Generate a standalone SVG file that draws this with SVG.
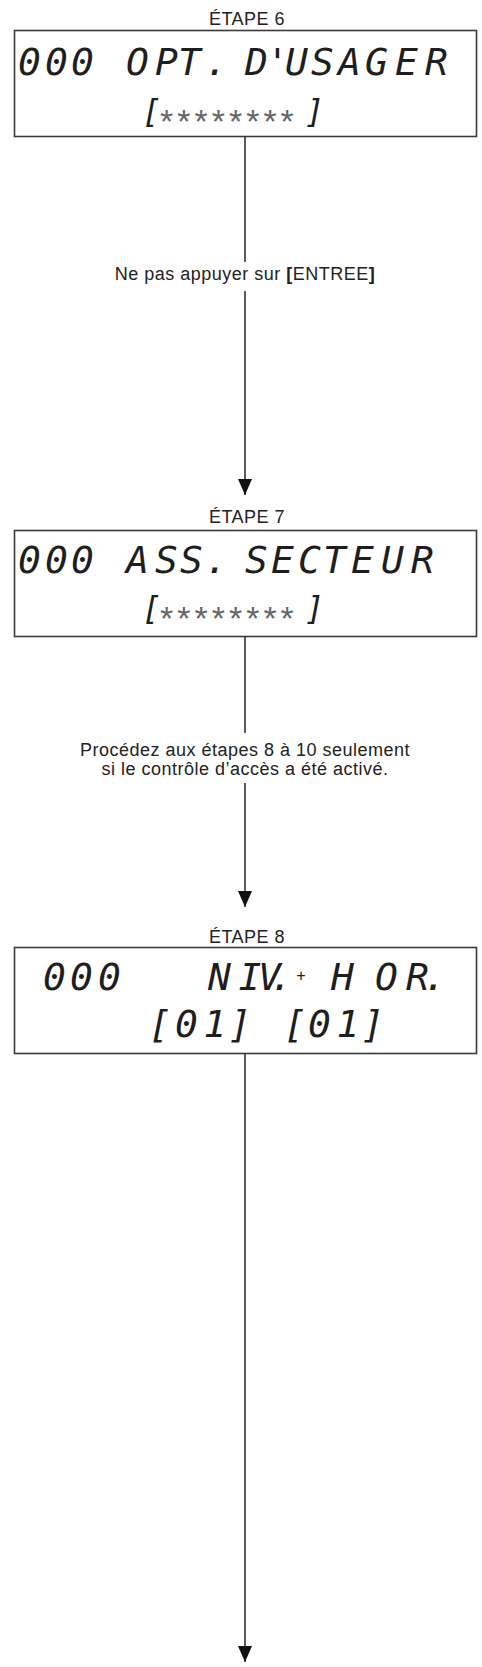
<svg xmlns="http://www.w3.org/2000/svg" width="482" height="1667" viewBox="0 0 482 1667">
<style>
.box{fill:#fff;stroke:#3a3a3a;stroke-width:1.6}
.lcd{font-family:"DejaVu Sans Mono","Liberation Mono",monospace;font-style:oblique;font-size:38px;fill:#1e1e1e}
.br{font-family:"DejaVu Sans Mono","Liberation Mono",monospace;font-style:oblique;font-size:32px;fill:#1e1e1e}
.ast{font-family:"Liberation Sans",Arial,sans-serif;font-size:34px;fill:#666;letter-spacing:4px}
.lbl{font-family:"Liberation Sans",Arial,sans-serif;font-size:18px;fill:#222;letter-spacing:0.5px;text-anchor:middle}
.conn{stroke:#333;stroke-width:1.6;fill:none}
</style>
<defs>
<marker id="arr" markerUnits="userSpaceOnUse" markerWidth="16" markerHeight="14" refX="16" refY="7" orient="auto">
<path d="M0,0 L16,7 L0,14 z" fill="#111"/>
</marker>
</defs>
<rect width="482" height="1667" fill="#fff"/>

<g id="connectors">
<line class="conn" x1="245" y1="137" x2="245" y2="262"/>
<line class="conn" x1="245" y1="291" x2="245" y2="495" marker-end="url(#arr)"/>
<line class="conn" x1="245" y1="637" x2="245" y2="733"/>
<line class="conn" x1="245" y1="783" x2="245" y2="907" marker-end="url(#arr)"/>
<line class="conn" x1="245" y1="1054" x2="245" y2="1662" marker-end="url(#arr)"/>
<text class="lbl" x="245" y="280">Ne pas appuyer sur <tspan font-weight="bold">[</tspan>ENTREE<tspan font-weight="bold">]</tspan></text>
<text class="lbl" x="245" y="756">Procédez aux étapes 8 à 10 seulement</text>
<text class="lbl" x="245" y="775">si le contrôle d’accès a été activé.</text>
</g>

<g id="step6">
<text class="lbl" x="247" y="25">ÉTAPE 6</text>
<rect class="box" x="14.5" y="30.5" width="462" height="106"/>
<text class="lcd" y="75" x="18 45 71 100 126 155 178 205 230 245 266 285 311 338 365 395 425">000 OPT. D'USAGER</text>
<text class="br" x="142" y="122">[</text>
<text class="ast" x="160" y="133">********</text>
<text class="br" x="305" y="122">]</text>
</g>

<g id="step7">
<text class="lbl" x="247" y="523">ÉTAPE 7</text>
<rect class="box" x="14.5" y="530.5" width="462" height="106"/>
<text class="lcd" y="573" x="18 45 71 100 126 155 180 205 230 245 271 298 323 351 381 411">000 ASS. SECTEUR</text>
<text class="br" x="142" y="619">[</text>
<text class="ast" x="160" y="630">********</text>
<text class="br" x="305" y="619">]</text>
</g>

<g id="step8">
<text class="lbl" x="247" y="943">ÉTAPE 8</text>
<rect class="box" x="14.5" y="947.5" width="462" height="106"/>
<text class="lcd" y="990" x="43 70 98">000</text>
<text class="lcd" y="990" x="208 238.5 258 270">NIV.</text>
<text x="301" y="981" font-family="DejaVu Sans Mono,monospace" font-size="15" fill="#1e1e1e" text-anchor="middle">+</text>
<text class="lcd" y="990" x="331 375 406 423.5">HOR.</text>
<text class="lcd" y="1037" x="148.5 175 203.5 228.5">[01]</text>
<text class="lcd" y="1037" x="283.5 308 336.5 361.5">[01]</text>
</g>
</svg>
